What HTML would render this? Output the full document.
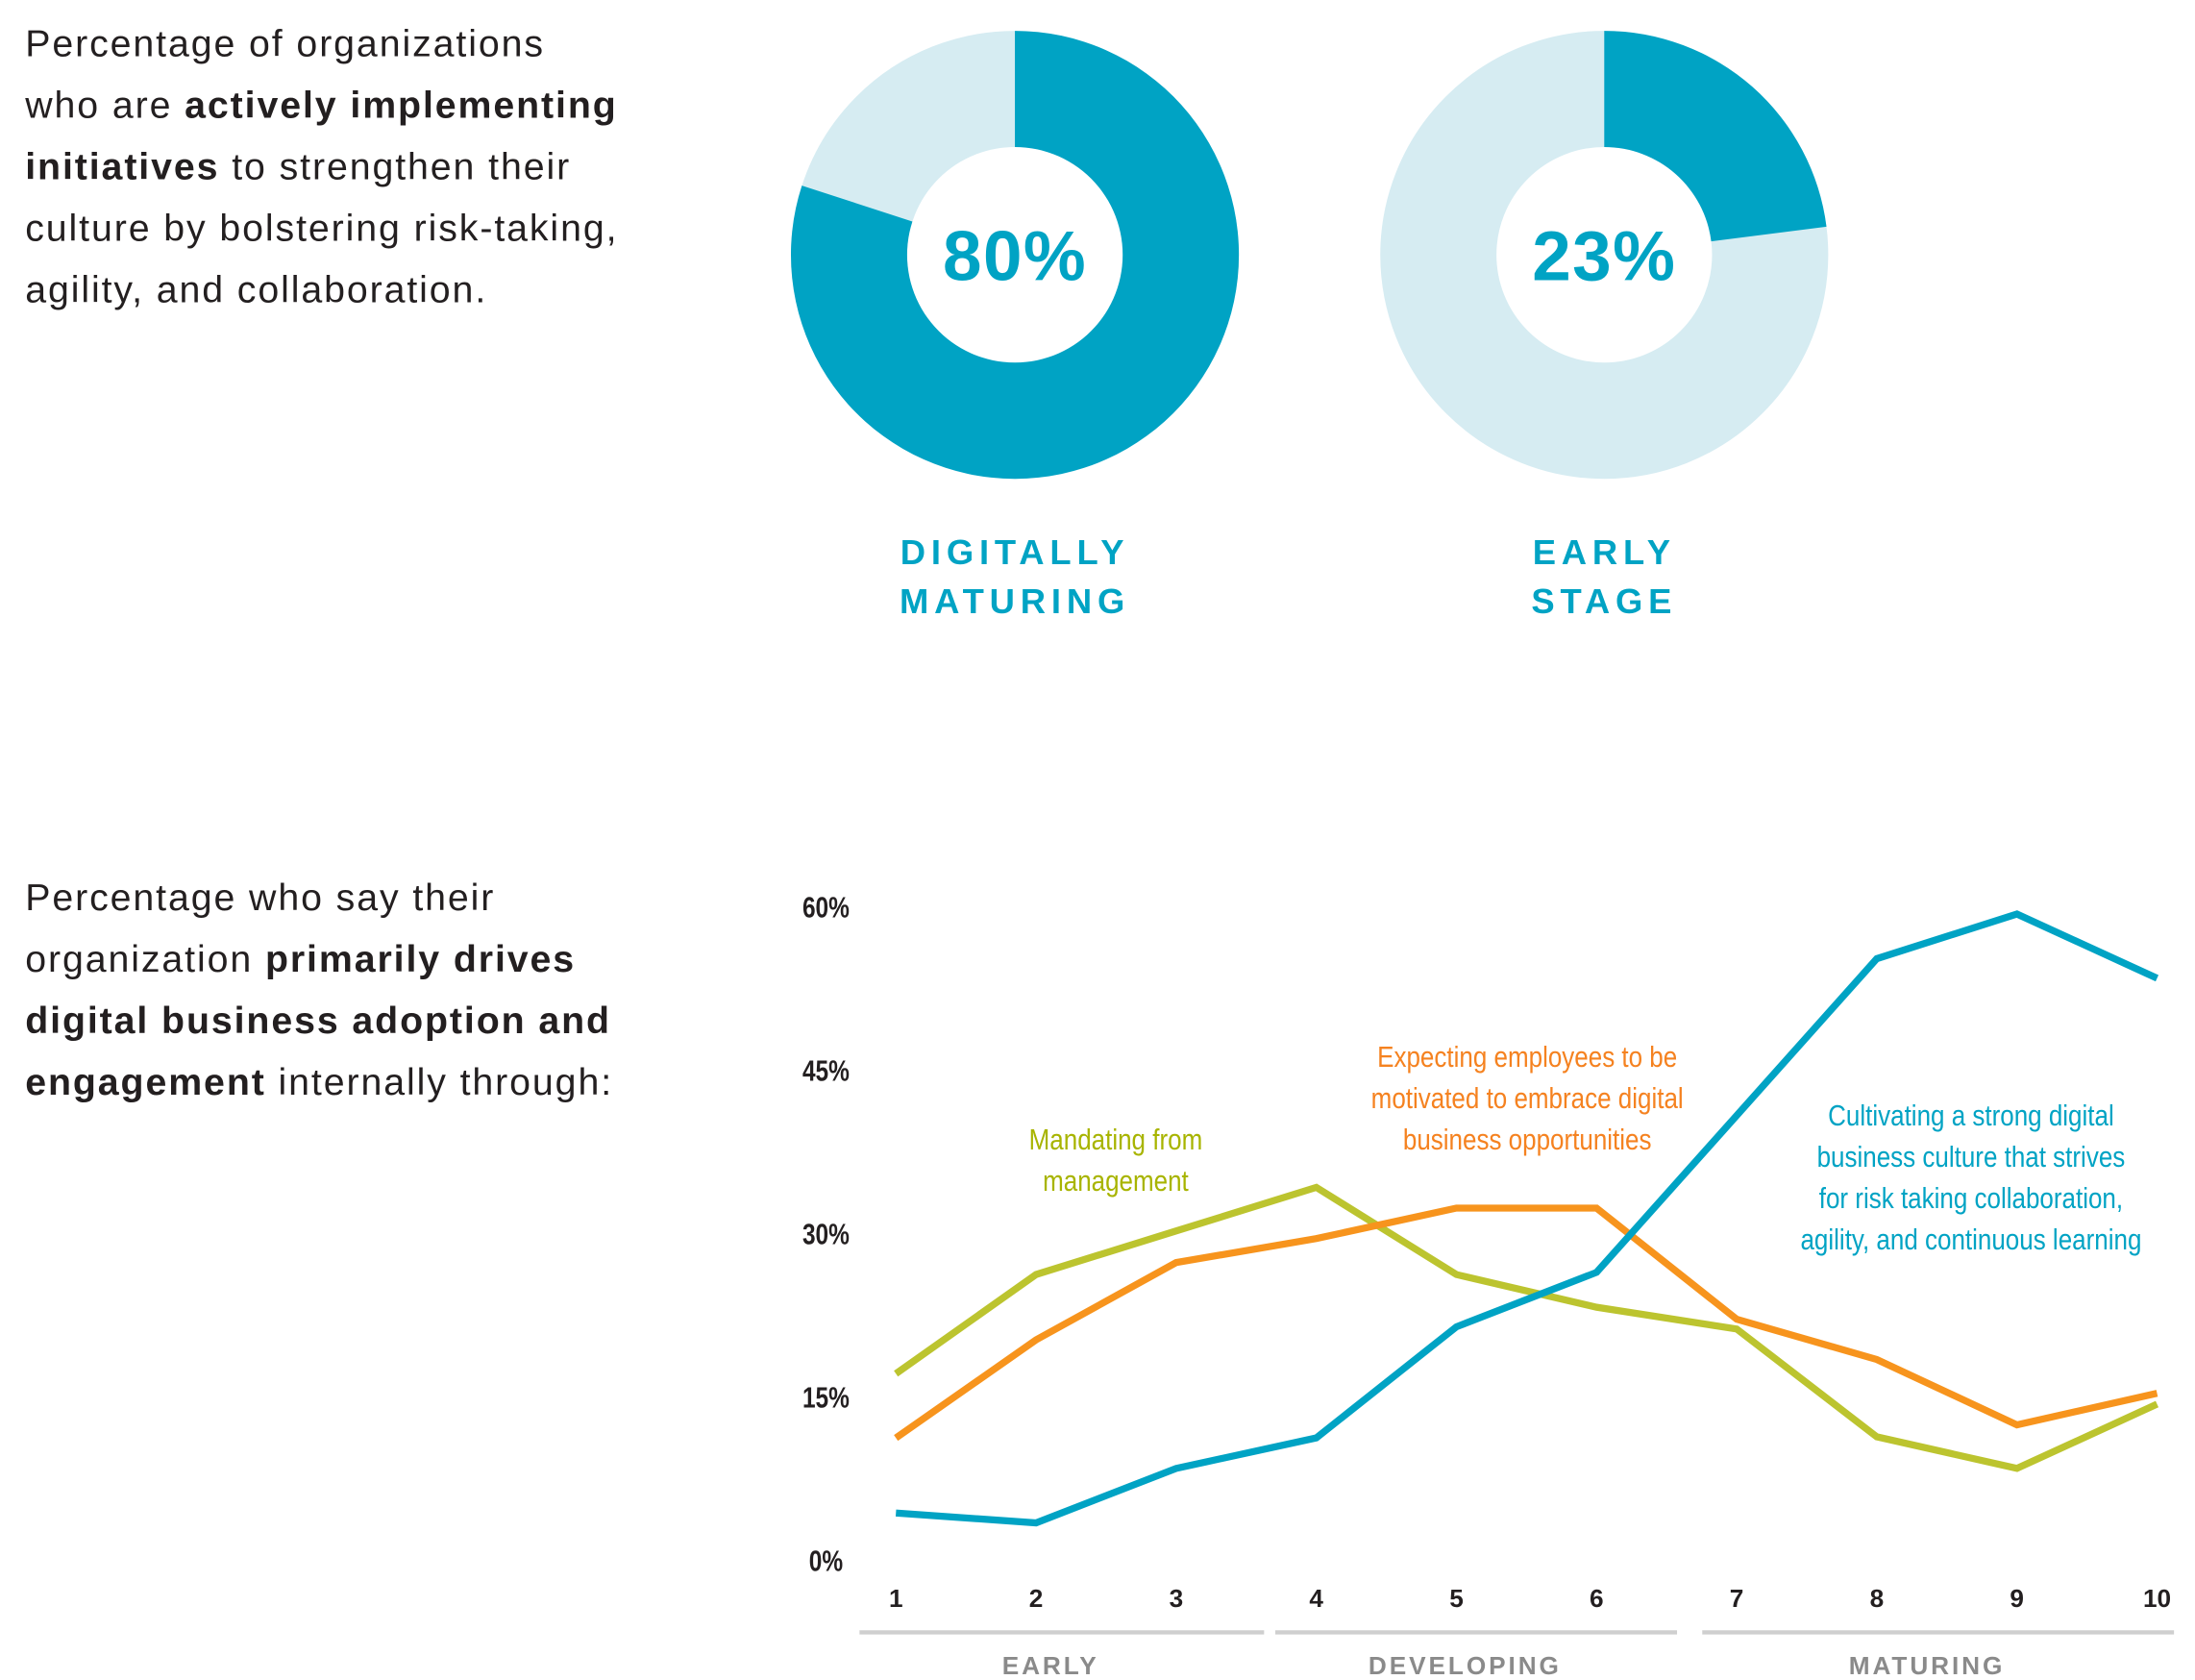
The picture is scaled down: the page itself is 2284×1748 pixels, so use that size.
<!DOCTYPE html>
<html><head><meta charset="utf-8"><style>
html,body{margin:0;padding:0;background:#fff;}
svg{display:block;}
.body{font-family:"Liberation Sans",sans-serif;font-size:27px;letter-spacing:1.3px;fill:#231f20;}
.b{font-weight:bold;}
</style></head><body>
<svg id="svg" width="2284" height="1748" viewBox="0 0 1568 1200" xmlns="http://www.w3.org/2000/svg">
<g class="body">
<text x="18" y="40">Percentage of organizations</text>
<text x="18" y="84">who are <tspan class="b">actively implementing</tspan></text>
<text x="18" y="128"><tspan class="b">initiatives</tspan> to strengthen their</text>
<text x="18" y="172">culture by bolstering risk-taking,</text>
<text x="18" y="216">agility, and collaboration.</text>
</g>
<g class="body">
<text x="18" y="650">Percentage who say their</text>
<text x="18" y="694">organization <tspan class="b">primarily drives</tspan></text>
<text x="18" y="738"><tspan class="b">digital business adoption and</tspan></text>
<text x="18" y="782"><tspan class="b">engagement</tspan> internally through:</text>
</g>
<g id="donuts"></g>
<g id="chart"></g>
</svg>
<script>
const donutLabels=[["DIGITALLY","MATURING"],["EARLY","STAGE"]];
const donutValues=[80,23];
const xCats=[1,2,3,4,5,6,7,8,9,10];
const yTicks=[0,15,30,45,60];
const seriesBlue=[4.4,3.5,8.5,11.3,21.5,26.5,40.9,55.3,59.4,53.5];
const seriesOrange=[11.3,20.3,27.4,29.6,32.4,32.4,22.2,18.5,12.5,15.4];
const seriesGreen=[17.2,26.3,30.3,34.3,26.3,23.3,21.3,11.4,8.5,14.4];
const groups=["EARLY","DEVELOPING","MATURING"];

const NS="http://www.w3.org/2000/svg";
function mk(tag,attrs,parent){const e=document.createElementNS(NS,tag);for(const k in attrs)e.setAttribute(k,attrs[k]);parent.appendChild(e);return e;}
const DARK="#00a3c4",LIGHT="#d6ecf2";
const donuts=document.getElementById('donuts');
const centers=[725,1146];
donutValues.forEach((v,i)=>{
  const cx=centers[i],cy=182,R=160,r=77;
  const g=mk('g',{},donuts);
  
  
  const bg=mk('circle',{cx:cx,cy:cy,r:(R+r)/2,fill:'none',stroke:LIGHT,'stroke-width':R-r},g);
  
  
  const a=v/100*2*Math.PI;
  const pt=(rr,ang)=>[cx+rr*Math.sin(ang),cy-rr*Math.cos(ang)];
  const large=v>50?1:0;
  const [x1,y1]=pt(R,0),[x2,y2]=pt(R,a),[x3,y3]=pt(r,a),[x4,y4]=pt(r,0);
  const p=mk('path',{d:`M${x1},${y1} A${R},${R} 0 ${large} 1 ${x2},${y2} L${x3},${y3} A${r},${r} 0 ${large} 0 ${x4},${y4} Z`,fill:DARK},g);
  
  
  const t=mk('text',{x:cx,y:cy+18,'text-anchor':'middle','font-family':'Liberation Sans, sans-serif','font-weight':'bold','font-size':50,'letter-spacing':1,fill:DARK},g);
  t.textContent=v+'%';
  
  
  donutLabels[i].forEach((s,j)=>{
    const l=mk('text',{x:cx,y:403+j*35,'text-anchor':'middle','font-family':'Liberation Sans, sans-serif','font-weight':'bold','font-size':25,'letter-spacing':4,fill:DARK},g);
    l.textContent=s;
    
    
  });
});

const chart=document.getElementById('chart');
const X=i=>640+(i-1)*100.1;
const Y=v=>1115-v*7.78;
yTicks.forEach(v=>{
  const g=mk('g',{transform:`translate(590,${Y(v)+7}) scale(0.8,1)`},chart);
  const t=mk('text',{x:0,y:0,'text-anchor':'middle','font-family':'Liberation Sans, sans-serif','font-weight':'bold','font-size':21,fill:'#231f20'},g);
  t.textContent=v+'%';
  
  
});
xCats.forEach(c=>{
  const t=mk('text',{x:X(c),y:1148,'text-anchor':'middle','font-family':'Liberation Sans, sans-serif','font-weight':'bold','font-size':18,fill:'#231f20'},chart);
  t.textContent=c;
  
  
});
const spans=[[614,903],[911,1198],[1216,1553]];
groups.forEach((gname,i)=>{
  const ln=mk('line',{x1:spans[i][0],x2:spans[i][1],y1:1166,y2:1166,stroke:'#cfcfcf','stroke-width':3},chart);
  
  
  const t=mk('text',{x:(spans[i][0]+spans[i][1])/2-8,y:1196,'text-anchor':'middle','font-family':'Liberation Sans, sans-serif','font-weight':'bold','font-size':18,'letter-spacing':2,fill:'#8a8a8a'},chart);
  t.textContent=gname;
  
  
});
function line(vals,color,name){
  const p=mk('polyline',{points:vals.map((v,i)=>X(xCats[i])+','+Y(v)).join(' '),fill:'none',stroke:color,'stroke-width':5,'stroke-linejoin':'miter'},chart);
  
  
}
line(seriesGreen,'#bcc42f','series-mandating-line');
line(seriesOrange,'#f7941d','series-expecting-line');
line(seriesBlue,'#00a3c4','series-cultivating-line');
function ann(lines,cx,y0,color,name){
  const g=mk('g',{transform:`translate(${cx},${y0}) scale(0.85,1)`},chart);
  
  
  lines.forEach((s,i)=>{
    const t=mk('text',{x:0,y:i*29.5,'text-anchor':'middle','font-family':'Liberation Sans, sans-serif','font-size':21,fill:color},g);
    t.textContent=s;
  });
}
ann(["Mandating from","management"],797,821,'#a8b400','annotation-mandating');
ann(["Expecting employees to be","motivated to embrace digital","business opportunities"],1091,762,'#f58220','annotation-expecting');
ann(["Cultivating a strong digital","business culture that strives","for risk taking collaboration,","agility, and continuous learning"],1408,804,'#00a3c4','annotation-cultivating');
</script>
</body></html>
